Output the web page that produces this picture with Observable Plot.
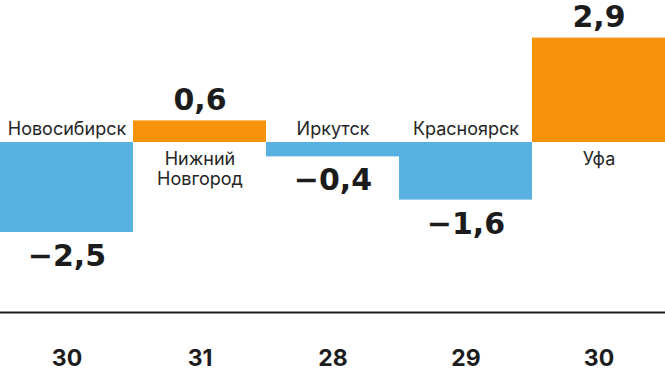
<!DOCTYPE html>
<html>
<head>
<meta charset="utf-8">
<script src="https://cdn.jsdelivr.net/npm/d3@7"></script>
<script src="https://cdn.jsdelivr.net/npm/@observablehq/plot@0.6"></script>
<style>
  html, body { margin: 0; padding: 0; background: #fff; }
  #chart svg { display: block; }
</style>
</head>
<body>
<div id="chart"></div>
<script>
const cities = ["Новосибирск", "Нижний\nНовгород", "Иркутск", "Красноярск", "Уфа"];
const values = [-2.5, 0.6, -0.4, -1.6, 2.9];
const counts = [30, 31, 28, 29, 30];

const blue = "#58B1E0";
const orange = "#F7930A";
const ink = "#1c1c1c";

const data = cities.map((c, i) => ({city: c, value: values[i], count: counts[i]}));
const pos = data.filter(d => d.value > 0);
const neg = data.filter(d => d.value < 0);
const fmt = v => (v < 0 ? "−" : "") + Math.abs(v).toFixed(1).replace(".", ",");

const valueFont = "DejaVu Sans, sans-serif";
const labelFont = "Inter, sans-serif";

const chart = Plot.plot({
  width: 665,
  height: 375,
  margin: 0,
  x: {domain: cities, padding: 0, axis: null},
  y: {domain: [-6.472, 3.944], axis: null},
  style: {fontFamily: labelFont, background: "#fff"},
  marks: [
    Plot.barY(data, {x: "city", y: "value", fill: d => d.value > 0 ? orange : blue, inset: 0}),
    // value labels
    Plot.text(pos, {x: "city", y: "value", text: d => fmt(d.value), lineAnchor: "bottom", dy: -11,
      fontSize: 30, fontWeight: "bold", fontFamily: valueFont, fill: ink, style: {letterSpacing: "3px"}}),
    Plot.text(neg, {x: "city", y: "value", text: d => fmt(d.value), lineAnchor: "bottom", dy: 33.5,
      fontSize: 30, fontWeight: "bold", fontFamily: valueFont, fill: ink, style: {letterSpacing: "2px"}}),
    // city labels
    Plot.text(neg, {x: "city", y: 0, text: "city", lineAnchor: "bottom", dy: -7.5,
      fontSize: 18, fontFamily: labelFont, fill: "#262626", style: {letterSpacing: "0.7px"}}),
    Plot.text(pos, {x: "city", y: 0, text: "city", lineAnchor: "top", dy: 9, lineHeight: 1.08,
      fontSize: 18, fontFamily: labelFont, fill: "#262626", style: {letterSpacing: "0.7px"}}),
    // separator line
    Plot.ruleY([-4.72], {stroke: ink, strokeWidth: 2}),
    // counts
    Plot.text(data, {x: "city", y: () => -6.0, text: d => String(d.count), lineAnchor: "middle",
      fontSize: 23, fontWeight: "bold", fontFamily: labelFont, fill: ink, style: {letterSpacing: "0.5px"}})
  ]
});
document.getElementById("chart").append(chart);
</script>
</body>
</html>
